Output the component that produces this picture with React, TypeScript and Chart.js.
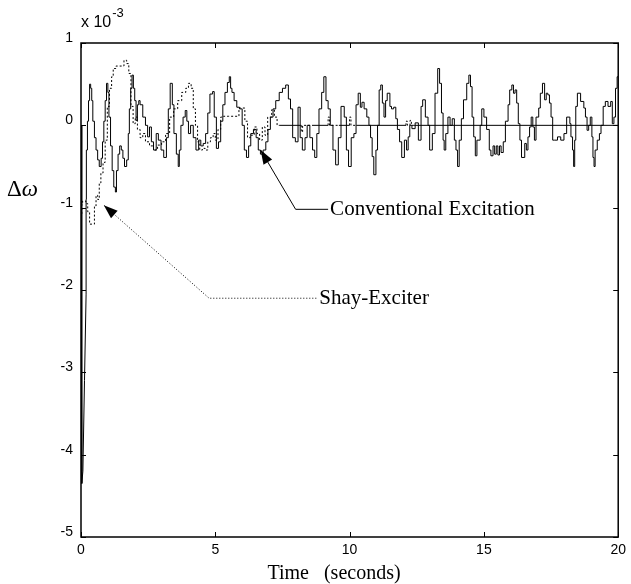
import { useEffect, useRef } from 'react';
import { Chart, registerables } from 'chart.js';
Chart.register(...registerables);

// Conventional excitation: initial transient (sloped) part
const transientTimes = [0, 0.03, 0.07, 0.13, 0.19];
const transientValues = [0, -4.35, -4.2, -3.1, -2.05];

// Conventional excitation: stepped response (x 10^-3)
const convTimes = [
  0.19, 0.2, 0.24, 0.28, 0.32, 0.36, 0.4, 0.44, 0.5, 0.56, 0.62, 0.68, 0.75, 0.8, 0.85, 0.9, 0.95, 1.0, 1.04, 1.1,
  1.16, 1.22, 1.28, 1.32, 1.38, 1.44, 1.5, 1.56, 1.62, 1.7, 1.76, 1.8, 1.85, 1.9, 1.95, 2.0, 2.05, 2.1, 2.15, 2.2,
  2.3, 2.4, 2.48, 2.55, 2.62, 2.7, 2.8, 2.88, 2.98, 3.08, 3.18, 3.25, 3.32, 3.4, 3.46, 3.55, 3.62, 3.66, 3.72, 3.8,
  3.88, 3.94, 4.0, 4.08, 4.18, 4.28, 4.38, 4.46, 4.55, 4.64, 4.72, 4.8, 4.9, 4.96, 5.04, 5.12, 5.2, 5.28, 5.36, 5.45,
  5.52, 5.57, 5.62, 5.7, 5.8, 5.9, 6.0, 6.08, 6.16, 6.24, 6.32, 6.42, 6.52, 6.6, 6.68, 6.78, 6.88, 6.96, 7.05, 7.15,
  7.25, 7.38, 7.5, 7.62, 7.72, 7.8, 7.88, 7.98, 8.08, 8.16, 8.24, 8.34, 8.42, 8.52, 8.62, 8.7, 8.78, 8.86, 8.96, 9.04,
  9.12, 9.2, 9.28, 9.38, 9.48, 9.58, 9.68, 9.8, 9.88, 9.96, 10.06, 10.16, 10.24, 10.32, 10.4, 10.46, 10.54, 10.64, 10.72, 10.78,
  10.84, 10.9, 10.98, 11.04, 11.1, 11.16, 11.22, 11.28, 11.34, 11.4, 11.5, 11.56, 11.64, 11.72, 11.78, 11.86, 11.94, 12.04, 12.12, 12.18,
  12.24, 12.32, 12.44, 12.56, 12.66, 12.72, 12.82, 12.92, 12.98, 13.08, 13.18, 13.28, 13.35, 13.42, 13.48, 13.52, 13.58, 13.66, 13.74, 13.82,
  13.9, 13.96, 14.02, 14.08, 14.16, 14.24, 14.36, 14.44, 14.5, 14.56, 14.62, 14.68, 14.74, 14.86, 14.92, 15.0, 15.1, 15.2, 15.26, 15.34,
  15.4, 15.46, 15.52, 15.58, 15.64, 15.72, 15.8, 15.9, 15.96, 16.04, 16.1, 16.16, 16.22, 16.28, 16.34, 16.4, 16.52, 16.58, 16.64, 16.7,
  16.76, 16.82, 16.88, 16.94, 17.04, 17.1, 17.18, 17.26, 17.32, 17.38, 17.44, 17.5, 17.56, 17.62, 17.74, 17.86, 17.98, 18.08, 18.2, 18.24,
  18.3, 18.34, 18.38, 18.42, 18.48, 18.6, 18.72, 18.78, 18.84, 18.9, 18.96, 19.02, 19.06, 19.1, 19.14, 19.22, 19.3, 19.36, 19.44, 19.52,
  19.62, 19.72, 19.78, 19.84, 19.9, 19.96, 20.0,
];
const convValues = [
  -2.05, -0.9, -0.3, 0.05, 0.3, 0.5, 0.45, 0.3, 0.05, -0.15, -0.3, -0.42, -0.5, -0.4, -0.2, 0.05, 0.3, 0.51, 0.4, 0.1,
  -0.25, -0.55, -0.75, -0.81, -0.55, -0.35, -0.25, -0.3, -0.4, -0.5, -0.42, -0.1, 0.2, 0.45, 0.61, 0.45, 0.3, 0.06, 0.25, 0.3,
  0.25, 0.1, 0.0, -0.14, -0.02, -0.2, -0.3, -0.1, -0.18, -0.3, -0.39, -0.15, 0.2, 0.51, 0.25, -0.1, -0.35, -0.5, -0.3, 0.0,
  0.1, 0.18, 0.05, -0.1, 0.0, -0.15, -0.3, -0.18, -0.25, -0.22, -0.1, 0.15, 0.38, 0.41, 0.1, -0.28, -0.2, 0.05, 0.25, 0.4,
  0.52, 0.59, 0.45, 0.4, 0.3, 0.22, 0.2, 0.0, -0.3, -0.39, -0.25, -0.1, -0.05, -0.15, -0.3, -0.35, -0.3, -0.2, -0.05, 0.1,
  0.2, 0.3, 0.4, 0.45, 0.49, 0.32, 0.2, -0.15, -0.2, 0.22, -0.15, -0.3, -0.15, 0.0, -0.15, -0.3, -0.39, -0.1, 0.2, 0.4,
  0.59, 0.3, 0.2, 0.0, -0.3, -0.48, -0.15, 0.23, 0.1, -0.3, -0.5, -0.15, -0.1, 0.25, 0.39, 0.22, 0.28, 0.2, 0.1, 0.0,
  -0.15, -0.38, -0.6, -0.3, 0.0, 0.43, 0.49, 0.27, 0.1, 0.3, 0.39, 0.23, 0.2, 0.22, 0.08, -0.05, -0.2, -0.39, -0.18, -0.3,
  -0.14, 0.0, -0.04, 0.03, -0.18, 0.23, 0.31, 0.1, 0.0, -0.3, -0.1, 0.39, 0.69, 0.51, 0.15, -0.18, -0.3, -0.1, 0.1, 0.0,
  0.08, -0.18, -0.3, -0.5, -0.18, 0.08, 0.31, 0.51, 0.61, 0.47, 0.1, -0.14, -0.37, -0.18, 0.0, 0.2, 0.1, -0.05, -0.3, -0.37,
  -0.25, -0.35, -0.25, -0.36, -0.25, -0.33, -0.2, 0.05, 0.25, 0.43, 0.49, 0.39, 0.43, 0.27, 0.02, -0.18, -0.39, -0.22, -0.3, -0.14,
  -0.02, 0.1, -0.02, -0.18, 0.1, 0.21, 0.39, 0.51, 0.31, 0.39, 0.37, 0.27, 0.1, -0.18, -0.18, -0.14, -0.18, -0.1, 0.1, 0.02,
  -0.14, -0.3, -0.5, -0.18, 0.23, 0.39, 0.29, 0.21, 0.1, -0.06, 0.0, 0.1, -0.14, -0.39, -0.5, -0.3, -0.18, -0.1, 0.0, 0.23,
  0.29, 0.23, 0.29, 0.02, 0.1, 0.45, 0.59,
];

// Shay-Exciter response (x 10^-3)
const shayTimes = [
  0.0, 0.03, 0.06, 0.18, 0.25, 0.32, 0.42, 0.5, 0.56, 0.62, 0.68, 0.74, 0.82, 0.9, 0.98, 1.06, 1.14, 1.2, 1.3, 1.45,
  1.6, 1.7, 1.78, 1.86, 1.94, 2.02, 2.1, 2.2, 2.3, 2.4, 2.55, 2.7, 2.85, 3.0, 3.15, 3.3, 3.45, 3.6, 3.75, 3.9,
  4.0, 4.1, 4.18, 4.26, 4.34, 4.42, 4.52, 4.62, 4.72, 4.82, 4.92, 5.0, 5.1, 5.2, 5.3, 5.5, 5.7, 5.88, 5.95, 6.1,
  6.2, 6.3, 6.45, 6.55, 6.65, 6.75, 6.85, 6.95, 7.1, 7.2, 7.3, 7.4, 8.2, 8.25, 8.6, 9.2, 9.25, 9.6, 10.0, 10.05,
  10.25, 12.1, 12.15, 12.25, 12.3, 12.4, 20.0,
];
const shayValues = [
  -0.6, -1.1, -0.95, -0.92, -0.95, -1.05, -1.2, -1.2, -0.98, -0.85, -0.9, -0.7, -0.58, -0.45, -0.18, 0.23, 0.45, 0.59, 0.69, 0.72,
  0.72, 0.79, 0.75, 0.63, 0.23, 0.02, 0.1, -0.05, -0.15, -0.1, -0.2, -0.25, -0.3, -0.24, -0.2, -0.1, 0.1, 0.2, 0.3, 0.4,
  0.45, 0.51, 0.45, 0.2, 0.0, -0.2, -0.3, -0.28, -0.3, -0.2, -0.15, -0.1, -0.18, -0.05, 0.1, 0.11, 0.11, 0.11, 0.21, 0.21,
  0.05, -0.15, -0.12, -0.02, -0.1, -0.18, -0.02, -0.12, 0.1, 0.19, 0.1, 0.0, 0.0, -0.08, 0.0, 0.0, 0.1, 0.0, 0.0, 0.1,
  0.0, 0.0, 0.05, 0.0, 0.06, 0.0, 0.0,
];

const xTicks = [0, 5, 10, 15, 20];
const yTicks = [-5, -4, -3, -2, -1, 0, 1];

// Annotation anchors in data units: [label end, elbow, arrow tip]
const convArrow = [[9.2, -1.02], [7.99, -1.02], [6.69, -0.3]];
const shayArrow = [[8.76, -2.1], [4.77, -2.1], [0.85, -0.97]];
const convLabel = 'Conventional Excitation';
const shayLabel = 'Shay-Exciter';
const xTitle = 'Time   (seconds)';

const pts = (ts: number[], vs: number[]) => ts.map((t, i) => ({ x: t, y: vs[i] }));

function arrowHead(ctx: CanvasRenderingContext2D, fx: number, fy: number, tx: number, ty: number) {
  const ang = Math.atan2(ty - fy, tx - fx);
  const L = 14, W = 5;
  const c = Math.cos(ang), s = Math.sin(ang);
  ctx.beginPath();
  ctx.moveTo(tx, ty);
  ctx.lineTo(tx - L * c + W * s, ty - L * s - W * c);
  ctx.lineTo(tx - L * c - W * s, ty - L * s + W * c);
  ctx.closePath();
  ctx.fill();
}

const decor = {
  id: 'decor',
  afterDraw(chart: any) {
    const { ctx, chartArea: a, scales } = chart;
    const xs = scales.x, ys = scales.y;
    ctx.save();
    ctx.strokeStyle = '#000';
    ctx.fillStyle = '#000';
    ctx.lineWidth = 1.5;
    ctx.setLineDash([]);
    ctx.strokeRect(a.left, a.top, a.right - a.left, a.bottom - a.top);
    ctx.lineWidth = 1;
    ctx.beginPath();
    xTicks.forEach((v) => {
      const px = Math.round(xs.getPixelForValue(v)) + 0.5;
      ctx.moveTo(px, a.bottom); ctx.lineTo(px, a.bottom - 5);
      ctx.moveTo(px, a.top); ctx.lineTo(px, a.top + 5);
    });
    yTicks.forEach((v) => {
      const py = Math.round(ys.getPixelForValue(v)) + 0.5;
      ctx.moveTo(a.left, py); ctx.lineTo(a.left + 5, py);
      ctx.moveTo(a.right, py); ctx.lineTo(a.right - 5, py);
    });
    ctx.stroke();

    const P = (p: number[]) => [xs.getPixelForValue(p[0]), ys.getPixelForValue(p[1])];

    // Conventional arrow (solid)
    const c0 = P(convArrow[0]), c1 = P(convArrow[1]), c2 = P(convArrow[2]);
    ctx.beginPath();
    ctx.moveTo(c0[0], c0[1]); ctx.lineTo(c1[0], c1[1]); ctx.lineTo(c2[0], c2[1]);
    ctx.stroke();
    arrowHead(ctx, c1[0], c1[1], c2[0], c2[1]);

    // Shay arrow (dotted)
    const s0 = P(shayArrow[0]), s1 = P(shayArrow[1]), s2 = P(shayArrow[2]);
    ctx.setLineDash([1, 2]);
    ctx.beginPath();
    ctx.moveTo(s0[0], s0[1]); ctx.lineTo(s1[0], s1[1]); ctx.lineTo(s2[0], s2[1]);
    ctx.stroke();
    ctx.setLineDash([]);
    arrowHead(ctx, s1[0], s1[1], s2[0], s2[1]);

    ctx.font = '21px "Liberation Serif"';
    ctx.textBaseline = 'middle';
    ctx.textAlign = 'left';
    ctx.fillText(convLabel, c0[0] + 2, c0[1]);
    ctx.fillText(shayLabel, s0[0] + 3, s0[1]);

    // exponent
    ctx.textBaseline = 'alphabetic';
    ctx.font = '16px "Liberation Sans"';
    ctx.fillText('x 10', a.left, a.top - 16);
    const w = ctx.measureText('x 10').width;
    ctx.font = '13px "Liberation Sans"';
    ctx.fillText('-3', a.left + w + 1, a.top - 26);

    // y label
    ctx.font = '23px "Liberation Serif"';
    ctx.fillText('\u0394', 7, 196);
    const dw = ctx.measureText('\u0394').width;
    ctx.font = 'italic 23px "Liberation Serif"';
    ctx.fillText('\u03c9', 7 + dw, 196);

    // x title
    ctx.font = '20px "Liberation Serif"';
    ctx.textAlign = 'center';
    ctx.fillText(xTitle, 334, 579);
    ctx.restore();
  },
};

export default function App() {
  const ref = useRef<HTMLCanvasElement>(null);
  useEffect(() => {
    if (!ref.current) return;
    const chart = new Chart(ref.current, {
      type: 'line',
      data: {
        datasets: [
          {
            label: 'Shay-Exciter',
            data: pts(shayTimes, shayValues),
            borderColor: '#000',
            borderWidth: 1,
            stepped: 'after',
            borderDash: [2, 2],
            segment: {
              borderDash: (c: any) => (c.p0.parsed.y === 0 && c.p1.parsed.y === 0 ? [] : [2, 2]),
            },
            pointRadius: 0,
          },
          {
            label: 'Conventional transient',
            data: pts(transientTimes, transientValues),
            borderColor: '#000',
            borderWidth: 1,
            pointRadius: 0,
          },
          {
            label: 'Conventional Excitation',
            data: pts(convTimes, convValues),
            borderColor: '#000',
            borderWidth: 1,
            stepped: 'after',
            pointRadius: 0,
          },
        ],
      },
      options: {
        responsive: false,
        animation: false,
        devicePixelRatio: 1,
        layout: { padding: { top: 43, right: 9, left: 0, bottom: 0 } },
        plugins: { legend: { display: false }, tooltip: { enabled: false } },
        scales: {
          x: {
            type: 'linear',
            min: 0,
            max: 20,
            afterFit: (s: any) => { s.height = 47; },
            afterBuildTicks: (s: any) => { s.ticks = xTicks.map((v) => ({ value: v })); },
            grid: { display: false, drawTicks: false },
            border: { display: false },
            ticks: { color: '#000', padding: 5, font: { family: 'Liberation Sans', size: 14 }, maxRotation: 0 },
          },
          y: {
            type: 'linear',
            min: -5,
            max: 1,
            afterFit: (s: any) => { s.width = 81; },
            afterBuildTicks: (s: any) => { s.ticks = yTicks.map((v) => ({ value: v })); },
            grid: { display: false, drawTicks: false },
            border: { display: false },
            ticks: { color: '#000', padding: 8, labelOffset: -5, font: { family: 'Liberation Sans', size: 14 } },
          },
        },
      },
      plugins: [decor],
    });
    return () => chart.destroy();
  }, []);
  return (
    <div style={{ position: 'absolute', left: 0, top: 0, width: 631, height: 584, background: '#fff' }}>
      <canvas ref={ref} width={631} height={584} />
    </div>
  );
}
